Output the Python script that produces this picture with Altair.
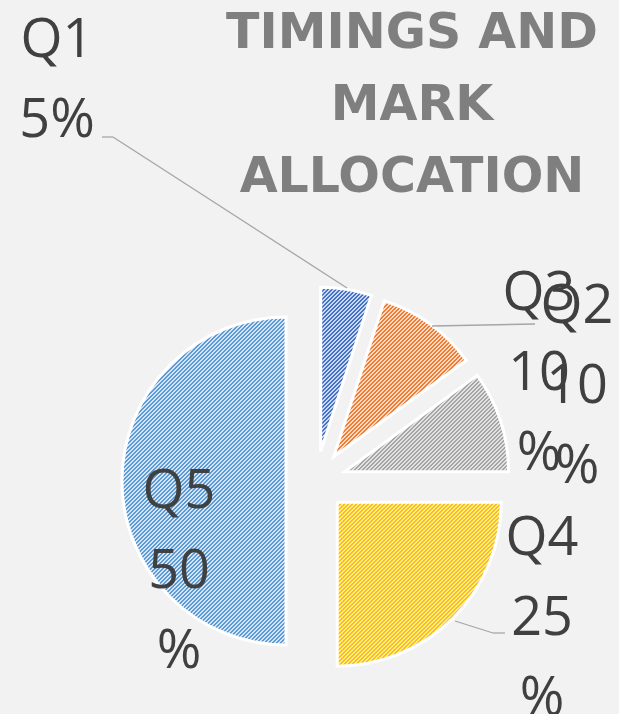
import math
import altair as alt
import pandas as pd

# ---- data ----
categories = ["Q1", "Q2", "Q3", "Q4", "Q5"]
values = [5, 10, 10, 25, 50]
title_lines = ["TIMINGS AND", "MARK", "ALLOCATION"]

# ---- styles ----
line_colors = {"Q1": "#4472c4", "Q2": "#ed7d31", "Q3": "#a5a5a5", "Q4": "#ffc000", "Q5": "#5b9bd5"}
back_colors = {"Q1": "#c9d6ef", "Q2": "#fbd9c4", "Q3": "#e2e2e2", "Q4": "#ffe9a6", "Q5": "#d4e4f5"}

W, H = 619, 714
CX, CY = 316, 481
EXPLODE = 30
R = 164
LABEL_FONT = "Open Sans"
LABEL_COLOR = "#404040"
LEADER = "#a6a6a6"

label_pos = {"Q1": (57, 57), "Q2": (577, 323), "Q3": (539, 310), "Q4": (542, 555), "Q5": (179, 508)}

total = sum(values)
labels = [f"{c}\n{v}%" if v < 10 else f"{c}\n{v}\n%" for c, v in zip(categories, values)]
df = pd.DataFrame({"cat": categories, "value": values, "label": labels})


def wedge_box(a0, a1):
    xs, ys = [0.0], [0.0]
    n = 400
    for i in range(n + 1):
        a = a0 + (a1 - a0) * i / n
        xs.append(R * math.sin(a))
        ys.append(-R * math.cos(a))
    return max(xs) - min(xs), max(ys) - min(ys)


def stripes(line, back, w, h, period=4.0):
    r = h / w
    s = (1 + r) / (1 + r * r)
    P = period / (w + h)
    stops = []
    k = 0
    while k * P < 1:
        o0 = round(k * P, 6)
        o1 = round(min(1.0, k * P + P / 2), 6)
        o2 = round(min(1.0, (k + 1) * P), 6)
        stops += [(o0, line), (o1, line), (o1, back), (o2, back)]
        k += 1
    return alt.Gradient(
        gradient="linear", x1=0, y1=0, x2=s, y2=s * r,
        stops=[alt.GradientStop(offset=o, color=c) for o, c in stops],
    )


base = alt.Chart(df).transform_window(
    end="sum(value)", sort=[alt.SortField("cat")], frame=[None, 0]
).transform_calculate(
    start="datum.end - datum.value",
    mid=f"(datum.end - datum.value / 2) / {total} * 2 * PI",
).transform_calculate(
    ux="sin(datum.mid)", uy="-cos(datum.mid)"
)

x_enc = alt.X("ux:Q", scale=alt.Scale(domain=[-1, 1], range=[CX - EXPLODE, CX + EXPLODE]), axis=None)
y_enc = alt.Y("uy:Q", scale=alt.Scale(domain=[-1, 1], range=[CY - EXPLODE, CY + EXPLODE]), axis=None)
theta_enc = alt.Theta("start:Q", scale=alt.Scale(domain=[0, total], range=[0, 2 * math.pi]))

layers = []
cum = 0
for c, v in zip(categories, values):
    a0 = cum / total * 2 * math.pi
    a1 = (cum + v) / total * 2 * math.pi
    cum += v
    w, h = wedge_box(a0, a1)
    layers.append(
        base.transform_filter(alt.datum.cat == c)
        .mark_arc(radius=R, fill=stripes(line_colors[c], back_colors[c], w, h),
                  stroke="white", strokeWidth=3)
        .encode(x=x_enc, y=y_enc, theta=theta_enc, theta2="end:Q")
    )

# leader lines
dummy = pd.DataFrame({"k": [0]})
segments = [
    (102, 137, 113, 137), (113, 137, 347, 288),
    (432, 326, 535, 324),
    (455, 621, 493, 633), (493, 633, 505, 633),
]
for x1, y1, x2, y2 in segments:
    layers.append(
        alt.Chart(dummy).mark_rule(color=LEADER, strokeWidth=1.3).encode(
            x=alt.value(x1), y=alt.value(y1), x2=alt.value(x2), y2=alt.value(y2)
        )
    )

# data labels
for c in ["Q1", "Q3", "Q2", "Q4", "Q5"]:
    lx, ly = label_pos[c]
    layers.append(
        alt.Chart(df).transform_filter(alt.datum.cat == c).mark_text(
            align="center", baseline="alphabetic", lineBreak="\n", font=LABEL_FONT,
            fontSize=54, lineHeight=80, color=LABEL_COLOR
        ).encode(x=alt.value(lx), y=alt.value(ly), text="label:N")
    )

# chart title (three wrapped lines, as in the reference)
layers.append(
    alt.Chart(dummy).mark_text(
        text=title_lines, align="center", baseline="alphabetic", font="DejaVu Sans",
        fontWeight="bold", fontSize=49, lineHeight=72, color="#7f7f7f"
    ).encode(x=alt.value(412), y=alt.value(48))
)

chart = alt.layer(*layers).properties(
    width=W, height=H,
    autosize=alt.AutoSizeParams(type="none"),
    padding=0,
    background="#f2f2f2",
).configure_view(stroke=None)

chart.save("out.html", embed_options={"renderer": "svg", "actions": False})
